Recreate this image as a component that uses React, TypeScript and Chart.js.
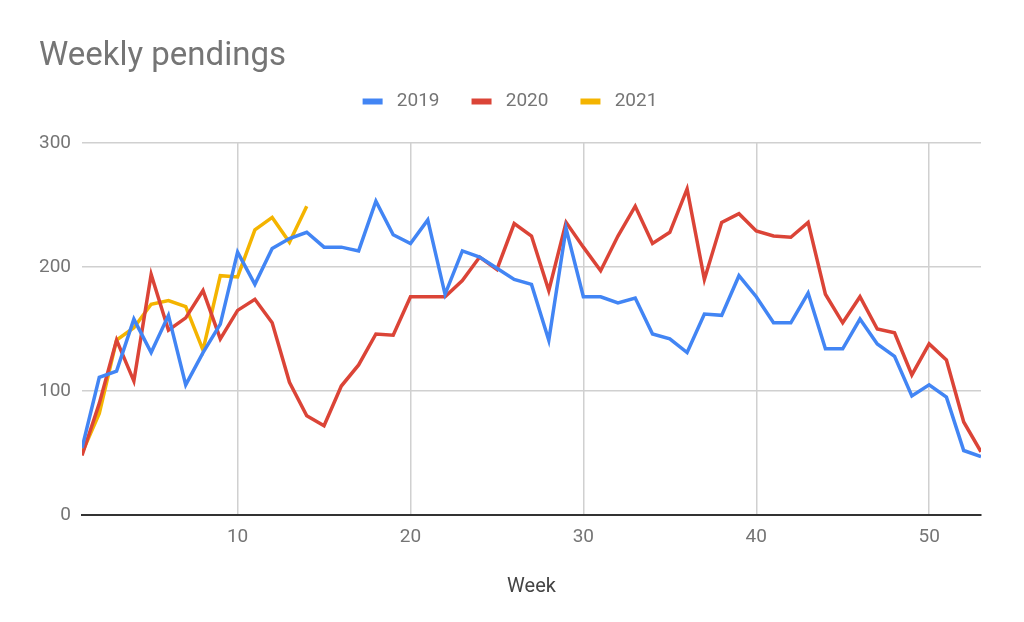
import React, { useEffect, useRef } from "react";
import { Chart, registerables } from "chart.js";

Chart.register(...registerables);

const weeks = [
  1, 2, 3, 4, 5, 6, 7, 8, 9, 10, 11, 12, 13, 14, 15, 16, 17, 18, 19, 20,
  21, 22, 23, 24, 25, 26, 27, 28, 29, 30, 31, 32, 33, 34, 35, 36, 37, 38, 39, 40,
  41, 42, 43, 44, 45, 46, 47, 48, 49, 50, 51, 52, 53,
];

const series2019 = [
  54, 111, 116, 158, 131, 161, 105, 131, 154, 212, 186, 215, 223, 228, 216, 216, 213, 253, 226, 219,
  238, 178, 213, 208, 199, 190, 186, 141, 231, 176, 176, 171, 175, 146, 142, 131, 162, 161, 193, 176,
  155, 155, 179, 134, 134, 158, 138, 128, 96, 105, 95, 52, 47,
];

const series2020 = [
  48, 90, 141, 108, 194, 149, 159, 181, 142, 165, 174, 155, 107, 80, 72, 104, 121, 146, 145, 176,
  176, 176, 189, 208, 198, 235, 225, 181, 236, 216, 197, 225, 249, 219, 228, 263, 190, 236, 243, 229,
  225, 224, 236, 178, 155, 176, 150, 147, 113, 138, 125, 75, 51,
];

const series2021 = [50, 82, 141, 151, 170, 173, 168, 133, 193, 192, 230, 240, 220, 249];

const seriesLabels = ["2019", "2020", "2021"];
const seriesColors = ["#4285F4", "#DB4437", "#F4B400"];
const xTickValues = [10, 20, 30, 40, 50];
const yTickValues = [0, 100, 200, 300];

const toPoints = (vals: number[]) => vals.map((v, i) => ({ x: weeks[i], y: v }));

export default function App() {
  const ref = useRef<HTMLCanvasElement | null>(null);

  useEffect(() => {
    if (!ref.current) return;
    const allSeries = [series2019, series2020, series2021];
    const chart = new Chart(ref.current, {
      type: "line",
      data: {
        datasets: allSeries.map((s, i) => ({
          label: seriesLabels[i],
          data: toPoints(s),
          borderColor: seriesColors[i],
          backgroundColor: seriesColors[i],
          borderWidth: 3.5,
          pointRadius: 0,
          pointHoverRadius: 0,
          tension: 0,
          fill: false,
        })),
      },
      options: {
        animation: false,
        responsive: true,
        maintainAspectRatio: false,
        layout: { padding: { left: 39, right: 43, top: 0, bottom: 0 } },
        plugins: {
          title: {
            display: true,
            text: "Weekly pendings",
            align: "start",
            color: "#757575",
            font: { family: "Roboto", size: 33, weight: "normal", lineHeight: 1 },
            padding: { top: 40, bottom: -13 },
          },
          subtitle: {
            display: true,
            text: " ",
            weight: 500,
            color: "rgba(0,0,0,0)",
            font: { family: "Roboto", size: 1, lineHeight: 1 },
            padding: { top: 21, bottom: 0 },
          },
          legend: {
            display: true,
            position: "top",
            align: "center",
            labels: {
              color: "#757575",
              font: { family: "Roboto", size: 19 },
              boxWidth: 20,
              boxHeight: 6,
              padding: 32,
              generateLabels: (c: any) => {
                const items = Chart.defaults.plugins.legend.labels.generateLabels(c);
                return items.map((it: any) => ({ ...it, text: " " + it.text, lineWidth: 0 }));
              },
            },
          },
          tooltip: { enabled: false },
        },
        scales: {
          x: {
            type: "linear",
            min: 1,
            max: 53,
            afterBuildTicks: (axis: any) => {
              axis.ticks = xTickValues.map((v) => ({ value: v }));
            },
            afterFit: (axis: any) => {
              axis.height = 107;
            },
            grid: { color: "#d0d0d0", lineWidth: 1.5, drawTicks: false },
            border: { display: true, color: "#333333", width: 2 },
            ticks: {
              color: "#757575",
              font: { family: "Roboto", size: 19 },
              padding: 11,
              maxRotation: 0,
              autoSkip: false,
            },
            title: {
              display: true,
              text: "Week",
              color: "#444444",
              font: { family: "Roboto", size: 20 },
              padding: { top: 10, bottom: 23 },
            },
          },
          y: {
            type: "linear",
            min: 0,
            max: 300,
            afterBuildTicks: (axis: any) => {
              axis.ticks = yTickValues.map((v) => ({ value: v }));
            },
            afterFit: (axis: any) => {
              axis.width = 43;
            },
            grid: { color: "#d0d0d0", lineWidth: 1.5, drawTicks: false },
            border: { display: false },
            ticks: {
              color: "#757575",
              font: { family: "Roboto", size: 19 },
              padding: 11,
            },
          },
        },
      },
    });
    return () => chart.destroy();
  }, []);

  return (
    <div style={{ position: "absolute", left: 0, top: 0, width: 1024, height: 622, background: "#fff" }}>
      <canvas ref={ref} />
    </div>
  );
}
